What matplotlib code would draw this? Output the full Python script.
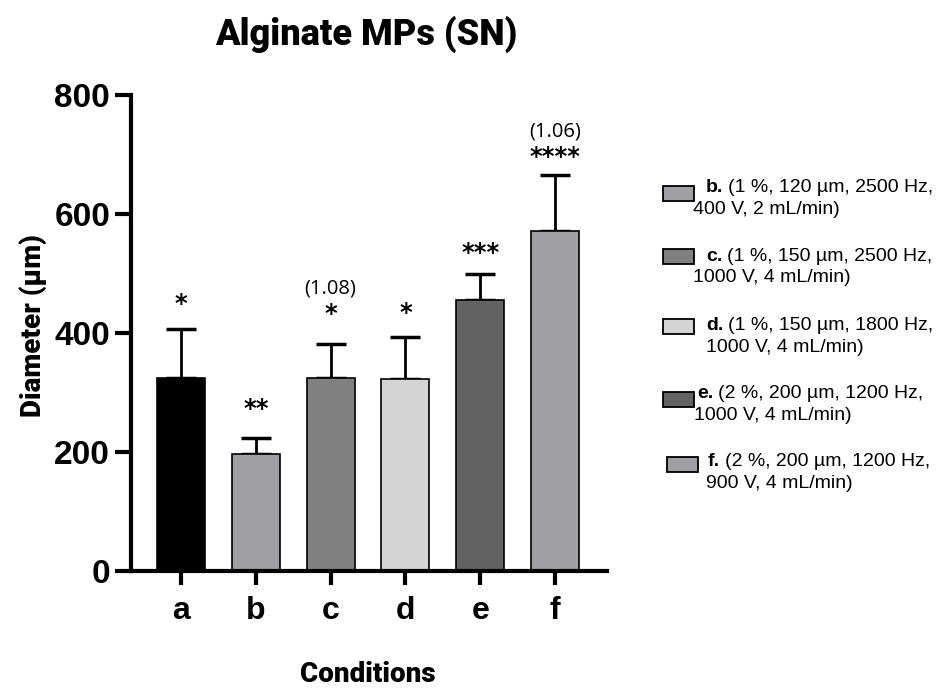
import numpy as np
import matplotlib
matplotlib.use('Agg')
import matplotlib.pyplot as plt
from matplotlib.patches import Rectangle

plt.rcParams['font.family'] = ['Liberation Sans', 'DejaVu Sans']

# 数据
conditions = ['a', 'b', 'c', 'd', 'e', 'f']
diameter = [325, 196, 324, 322, 455, 572]
sd = [82, 27, 57, 71, 45, 93]
stars = ['*', '**', '*', '*', '***', '****']
ratio_labels = ['', '', '(1.08)', '', '', '(1.06)']
colors = ['#000000', '#a0a0a4', '#808080', '#d4d4d4', '#636363', '#a0a0a4']

legend_keys = ['b.', 'c.', 'd.', 'e.', 'f.']
legend_line1 = ['(1 %, 120 \u00b5m, 2500 Hz,', '(1 %, 150 \u00b5m, 2500 Hz,',
                '(1 %, 150 \u00b5m, 1800 Hz,', '(2 %, 200 \u00b5m, 1200 Hz,',
                '(2 %, 200 \u00b5m, 1200 Hz,']
legend_line2 = ['400 V, 2 mL/min)', '1000 V, 4 mL/min)', '1000 V, 4 mL/min)',
                '1000 V, 4 mL/min)', '900 V, 4 mL/min)']

W, H = 946, 689
fig = plt.figure(figsize=(W / 100, H / 100), dpi=100)


def px(x, y):
    return x / W, 1 - y / H


ax = fig.add_axes([131 / W, 1 - 571 / H, (607 - 131) / W, (571 - 95) / H])
x = np.arange(len(conditions))
ax.bar(x, diameter, width=0.64, color=colors, edgecolor='black', linewidth=1.2, zorder=2)
ax.errorbar(x, diameter, yerr=[np.zeros(len(sd)), sd], fmt='none', ecolor='black',
            elinewidth=2, capsize=11, capthick=2.5, zorder=1)

# 显著性标记
star_off = [124, 76, 108, 111, 79, 124]
for i in range(len(conditions)):
    ax.text(x[i], diameter[i] + star_off[i], stars[i], ha='center', va='center',
            fontsize=17.5, fontweight='bold', family='DejaVu Sans')
    if ratio_labels[i]:
        ax.text(x[i], diameter[i] + star_off[i] + 42, ratio_labels[i], ha='center',
                va='center', fontsize=14.5, family='Open Sans')

ax.set_xlim(-0.668, 5.695)
ax.set_ylim(0, 800)
ax.set_yticks([0, 200, 400, 600, 800])
ax.set_xticks(x)
ax.set_xticklabels(conditions)
for s in ['top', 'right']:
    ax.spines[s].set_visible(False)
for s in ['left', 'bottom']:
    ax.spines[s].set_linewidth(3)
ax.tick_params(axis='y', length=11.5, width=3, pad=3.5, labelsize=24)
ax.tick_params(axis='x', length=10, width=3, pad=8, labelsize=23)
for lab in ax.get_xticklabels() + ax.get_yticklabels():
    lab.set_fontweight('bold')

narrow = ['Roboto', 'DejaVu Sans']
fig.text(*px(366, 34), 'Alginate MPs (SN)', ha='center', va='center', fontsize=26,
         fontweight='heavy', family=narrow)
fig.text(*px(368, 674), 'Conditions', ha='center', va='center', fontsize=20,
         fontweight='heavy', family=narrow)
fig.text(*px(33, 326), 'Diameter (\u00b5m)', ha='center', va='center', fontsize=20,
         fontweight='heavy', family=narrow, rotation=90)

# 图例
patch_x = [663, 663, 663, 663, 667]
patch_y = [186, 249, 319, 392, 457]
key_x = [706, 706, 706, 697, 708]
line2_x = [693, 693, 706, 694, 706]
line1_y = [187, 256, 325, 393, 462]
renderer = fig.canvas.get_renderer()
for i in range(len(legend_keys)):
    fx, fy = px(patch_x[i], patch_y[i] + 15)
    fig.patches.append(Rectangle((fx, fy), 31 / W, 15 / H, transform=fig.transFigure,
                                 facecolor=colors[i + 1], edgecolor='black', linewidth=1.3))
    t = fig.text(*px(key_x[i], line1_y[i]), legend_keys[i], ha='left', va='center',
                 fontsize=14, fontweight='bold')
    bb = t.get_window_extent(renderer)
    fig.text((bb.x1 + 5) / W, 1 - line1_y[i] / H, legend_line1[i], ha='left', va='center',
             fontsize=14)
    fig.text(*px(line2_x[i], line1_y[i] + 22), legend_line2[i], ha='left', va='center',
             fontsize=14)

fig.savefig('out.png', dpi=100)
